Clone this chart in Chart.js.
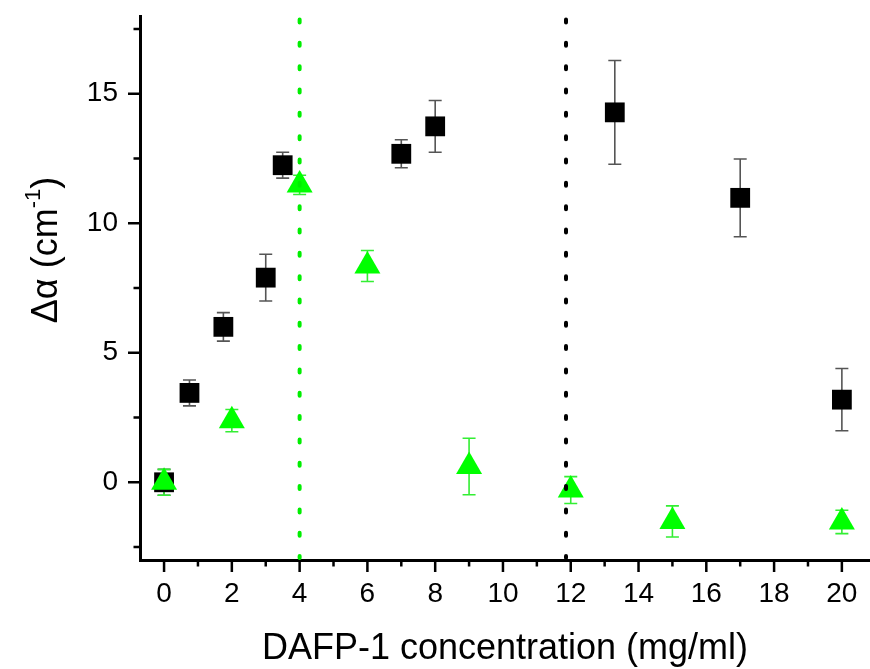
<!DOCTYPE html>
<html>
<head>
<meta charset="utf-8">
<script src="https://cdn.jsdelivr.net/npm/chart.js@4.4.1/dist/chart.umd.min.js"></script>
<style>
  html, body { margin: 0; padding: 0; background: #ffffff; }
  #wrap { width: 870px; height: 669px; position: relative; }
</style>
</head>
<body>
<div id="wrap"><canvas id="c" width="870" height="669"></canvas></div>
<script>
// ---- data ----
const concBlack  = [0, 0.75, 1.75, 3.0, 3.5, 7.0, 8.0, 13.3, 17.0, 20.0];
const alphaBlack = [0.0, 3.45, 6.0, 7.9, 12.24, 12.68, 13.74, 14.28, 10.98, 3.19];
const errBlack   = [0.5, 0.5, 0.55, 0.9, 0.5, 0.54, 1.0, 2.0, 1.5, 1.2];

const concGreen  = [0, 2, 4, 6, 9, 12, 15, 20];
const alphaGreen = [0.0, 2.38, 11.48, 8.35, 0.61, -0.3, -1.51, -1.53];
const errGreen   = [0.5, 0.43, 0.37, 0.6, 1.09, 0.52, 0.6, 0.45];

const markerLineX      = [4, 11.86];
const markerLineColors = ['#00ee00', '#000000'];

const xTickLabels = [0, 2, 4, 6, 8, 10, 12, 14, 16, 18, 20];
const xMinorTicks = [1, 3, 5, 7, 9, 11, 13, 15, 17, 19];
const yTickLabels = [0, 5, 10, 15];
const yMinorTicks = [-2.5, 2.5, 7.5, 12.5, 17.5];

const xTitle = 'DAFP-1 concentration (mg/ml)';
const yTitleMain = '\u0394\u03b1 (cm';
const yTitleSup = '-1';
const yTitleEnd = ')';

const FONT = '"Liberation Sans", Arial, Helvetica, sans-serif';

const toPts = (xs, ys) => xs.map((x, i) => ({ x: x, y: ys[i] }));

const errorBarPlugin = {
  id: 'errorBars',
  beforeDatasetsDraw(chart) {
    const ctx = chart.ctx;
    const xs = chart.scales.x, ys = chart.scales.y;
    const sets = [
      { xv: concBlack, yv: alphaBlack, ev: errBlack, color: '#555555' },
      { xv: concGreen, yv: alphaGreen, ev: errGreen, color: '#33ee33' }
    ];
    ctx.save();
    ctx.lineWidth = 1.6;
    sets.forEach(s => {
      ctx.strokeStyle = s.color;
      s.xv.forEach((xv, i) => {
        const px = xs.getPixelForValue(xv);
        const top = ys.getPixelForValue(s.yv[i] + s.ev[i]);
        const bot = ys.getPixelForValue(s.yv[i] - s.ev[i]);
        ctx.beginPath();
        ctx.moveTo(px, top); ctx.lineTo(px, bot);
        ctx.moveTo(px - 6.5, top); ctx.lineTo(px + 6.5, top);
        ctx.moveTo(px - 6.5, bot); ctx.lineTo(px + 6.5, bot);
        ctx.stroke();
      });
    });
    ctx.restore();
  }
};

const decorPlugin = {
  id: 'decor',
  afterDatasetsDraw(chart) {
    const ctx = chart.ctx;
    const xs = chart.scales.x;
    const a = chart.chartArea;
    ctx.save();
    ctx.lineWidth = 4;
    ctx.lineCap = 'round';
    ctx.setLineDash([3, 20.33]);
    markerLineX.forEach((v, i) => {
      const px = xs.getPixelForValue(v);
      ctx.strokeStyle = markerLineColors[i];
      ctx.beginPath();
      ctx.moveTo(px, a.top + 3.5);
      ctx.lineTo(px, a.bottom - 2);
      ctx.stroke();
    });
    ctx.restore();
  },
  afterDraw(chart) {
    const ctx = chart.ctx;
    const xs = chart.scales.x, ys = chart.scales.y;
    const a = chart.chartArea;
    ctx.save();
    ctx.strokeStyle = '#000';
    ctx.lineWidth = 2.5;
    ctx.lineCap = 'butt';
    ctx.beginPath();
    xTickLabels.forEach(v => { const p = xs.getPixelForValue(v); ctx.moveTo(p, a.bottom); ctx.lineTo(p, a.bottom + 12); });
    xMinorTicks.forEach(v => { const p = xs.getPixelForValue(v); ctx.moveTo(p, a.bottom); ctx.lineTo(p, a.bottom + 6.5); });
    yTickLabels.forEach(v => { const p = ys.getPixelForValue(v); ctx.moveTo(a.left, p); ctx.lineTo(a.left - 12, p); });
    yMinorTicks.forEach(v => { const p = ys.getPixelForValue(v); ctx.moveTo(a.left, p); ctx.lineTo(a.left - 6.5, p); });
    ctx.stroke();

    ctx.fillStyle = '#000';
    ctx.font = '36px ' + FONT;
    ctx.textAlign = 'center';
    ctx.textBaseline = 'alphabetic';
    ctx.fillText(xTitle, (a.left + a.right) / 2, a.bottom + 99);

    const mainFont = '36px ' + FONT;
    const supFont = '22px ' + FONT;
    ctx.font = mainFont;
    const w1 = ctx.measureText(yTitleMain).width;
    const w3 = ctx.measureText(yTitleEnd).width;
    ctx.font = supFont;
    const w2 = ctx.measureText(yTitleSup).width;
    const total = w1 + w2 + w3;
    ctx.translate(57, 250);
    ctx.rotate(-Math.PI / 2);
    ctx.textAlign = 'left';
    const x0 = -total / 2;
    ctx.font = mainFont;
    ctx.fillText(yTitleMain, x0, 0);
    ctx.font = supFont;
    ctx.fillText(yTitleSup, x0 + w1, -17);
    ctx.font = mainFont;
    ctx.fillText(yTitleEnd, x0 + w1 + w2, 0);
    ctx.restore();
  }
};

function zeroPad(scale) {
  scale.paddingTop = 0; scale.paddingBottom = 0;
  scale.paddingLeft = 0; scale.paddingRight = 0;
}

new Chart(document.getElementById('c'), {
  type: 'scatter',
  data: {
    datasets: [
      {
        label: 'green',
        data: toPts(concGreen, alphaGreen),
        pointStyle: 'triangle',
        pointRadius: 15,
        backgroundColor: '#00ff00',
        borderColor: '#00ff00',
        borderWidth: 0,
        order: 0
      },
      {
        label: 'black',
        data: toPts(concBlack, alphaBlack),
        pointStyle: 'rect',
        pointRadius: 14,
        backgroundColor: '#000000',
        borderColor: '#000000',
        borderWidth: 0,
        order: 1
      }
    ]
  },
  options: {
    responsive: false,
    animation: false,
    events: [],
    layout: { autoPadding: false, padding: { top: 16, right: 0, left: 0, bottom: 0 } },
    plugins: { legend: { display: false }, tooltip: { enabled: false } },
    scales: {
      x: {
        type: 'linear',
        min: -0.71,
        max: 20.83,
        afterFit(scale) { scale.height = 109; zeroPad(scale); },
        afterBuildTicks(scale) { scale.ticks = xTickLabels.map(v => ({ value: v })); },
        grid: { display: true, drawOnChartArea: false, drawTicks: false },
        border: { display: true, color: '#000', width: 3 },
        ticks: {
          padding: 17,
          color: '#000',
          font: { family: FONT, size: 28 },
          maxRotation: 0,
          autoSkip: false,
          callback: v => String(v)
        }
      },
      y: {
        type: 'linear',
        min: -3,
        max: 18,
        afterFit(scale) { scale.width = 140; zeroPad(scale); },
        afterBuildTicks(scale) { scale.ticks = yTickLabels.map(v => ({ value: v })); },
        grid: { display: true, drawOnChartArea: false, drawTicks: false },
        border: { display: true, color: '#000', width: 3 },
        ticks: {
          padding: 22,
          color: '#000',
          font: { family: FONT, size: 28 },
          autoSkip: false,
          callback: v => String(v)
        }
      }
    }
  },
  plugins: [errorBarPlugin, decorPlugin]
});
</script>
</body>
</html>
